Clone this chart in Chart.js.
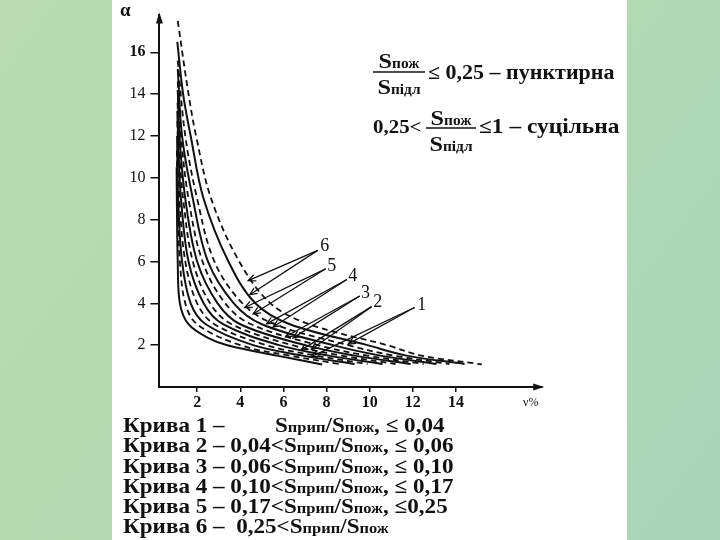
<!DOCTYPE html>
<html>
<head>
<meta charset="utf-8">
<script src="https://cdn.jsdelivr.net/npm/chart.js@4.4.1/dist/chart.umd.min.js"></script>
<style>
  html, body { margin: 0; padding: 0; background: #b6dbb2; }
  #wrap { width: 720px; height: 540px; }
</style>
</head>
<body>
<div id="wrap"><canvas id="c" width="720" height="540"></canvas></div>
<script>
// Curves as [nu %, alpha]; inner to outer, each number has a solid and a dashed line
const C1_SOLID  = [[1.05,10.5],[1.06,9],[1.1,6],[1.2,4],[1.6,3],[2.5,2.35],[3.4,2.0],[5.7,1.5],[7.8,1.08]];
const C1_DASHED = [[1.06,11.3],[1.08,9],[1.2,6],[1.45,4],[2.0,3],[4.0,2],[6.3,1.5],[8.6,1.1]];
const C2_SOLID  = [[1.07,12.0],[1.12,9],[1.3,6],[1.7,4],[2.4,3],[4.6,2],[6.9,1.5],[9.3,1.1]];
const C2_DASHED = [[1.08,12.7],[1.18,9],[1.45,6],[2.0,4],[2.8,3],[5.2,2],[7.5,1.5],[9.9,1.1]];
const C3_SOLID  = [[1.08,13.2],[1.15,11],[1.25,9],[1.6,6],[2.3,4],[3.2,3],[5.8,2],[8.1,1.5],[10.6,1.1]];
const C3_DASHED = [[1.09,13.6],[1.2,11],[1.35,9],[1.8,6],[2.6,4],[3.6,3],[6.4,2],[8.7,1.5],[11.2,1.1]];
const C4_SOLID  = [[1.1,14.2],[1.18,12],[1.45,9],[2.0,6],[2.95,4],[4.0,3],[7.0,2],[9.3,1.5],[11.9,1.1]];
const C4_DASHED = [[1.1,14.6],[1.25,12],[1.6,9],[2.25,6],[3.3,4],[4.5,3],[7.6,2],[9.9,1.5],[12.5,1.1]];
const C5_SOLID  = [[1.1,15.2],[1.3,12],[1.8,9],[2.5,6],[3.7,4],[5.0,3],[8.3,2],[10.5,1.5],[13.1,1.1]];
const C5_DASHED = [[1.1,15.6],[1.45,12],[2.0,9],[2.8,6],[4.1,4],[5.6,3],[9.0,2],[11.1,1.5],[13.7,1.1]];
const C6_SOLID  = [[1.08,16.5],[1.35,14],[1.7,12],[2.3,9],[3.45,6],[4.7,4],[6.3,3],[9.9,2],[11.7,1.5],[14.4,1.1]];
const C6_DASHED = [[1.1,17.5],[1.6,14],[1.95,12],[2.65,9],[3.95,6],[5.4,4],[7.2,3],[10.8,2],[12.4,1.5],[15.2,1.08]];

// Hand-drawn pointer arrows, in data units
const ARROW_NUMS  = ['6', '5', '4', '3', '2', '1'];
const ARROW_FROM  = [[7.59,6.53],[7.96,5.65],[8.94,5.14],[9.54,4.35],[10.09,3.84],[12.08,3.80]];
const ARROW_TIP_A = [[4.37,5.08],[4.21,3.80],[5.22,3.02],[6.1,2.4],[6.8,1.75],[7.3,1.45]];
const ARROW_TIP_B = [[4.44,4.41],[4.6,3.49],[5.52,2.87],[6.45,2.35],[7.3,1.8],[9.0,2.05]];
const LABEL_AT    = [[7.92,6.71],[8.24,5.79],[9.21,5.28],[9.81,4.49],[10.37,4.03],[12.41,3.89]];

const X_TICKS = [2, 4, 6, 8, 10, 12, 14];
const Y_TICKS = [2, 4, 6, 8, 10, 12, 14, 16];

// Legend text under the plot
const RANGE_LOW  = ['', '0,04', '0,06', '0,10', '0,17', '0,25'];
const RANGE_HIGH = [', ≤ 0,04', ', ≤ 0,06', ', ≤ 0,10', ', ≤ 0,17', ', ≤0,25', ''];

const SERIF = '"Liberation Serif", "Times New Roman", serif';
const INK = '#111';

const curves = [
  C1_SOLID, C1_DASHED, C2_SOLID, C2_DASHED, C3_SOLID, C3_DASHED,
  C4_SOLID, C4_DASHED, C5_SOLID, C5_DASHED, C6_SOLID, C6_DASHED
];

const datasets = curves.map((pts, i) => {
  const dashed = i % 2 === 1;
  return {
    data: pts.map(([x, y]) => ({ x, y })),
    showLine: true,
    borderColor: INK,
    borderWidth: dashed ? 1.8 : 2,
    borderDash: dashed ? [6, 4] : [],
    pointRadius: 0,
    tension: 0.35,
    fill: false
  };
});

// Draw a run of text pieces of different sizes on one baseline, stretched by sx
function drawRuns(ctx, x, y, parts, align, sx = 1.1) {
  let w = 0;
  for (const [t, s] of parts) {
    ctx.font = `bold ${s}px ${SERIF}`;
    w += ctx.measureText(t).width;
  }
  ctx.save();
  ctx.translate(align === 'center' ? x - w * sx / 2 : x, y);
  ctx.scale(sx, 1);
  let cx = 0;
  for (const [t, s] of parts) {
    ctx.font = `bold ${s}px ${SERIF}`;
    ctx.fillText(t, cx, 0);
    cx += ctx.measureText(t).width;
  }
  ctx.restore();
  return w * sx;
}

function arrowHead(ctx, x0, y0, x1, y1, len) {
  const a = Math.atan2(y1 - y0, x1 - x0);
  ctx.beginPath();
  ctx.moveTo(x1 - len * Math.cos(a - 0.42), y1 - len * Math.sin(a - 0.42));
  ctx.lineTo(x1, y1);
  ctx.lineTo(x1 - len * Math.cos(a + 0.42), y1 - len * Math.sin(a + 0.42));
  ctx.stroke();
}

const paperPlugin = {
  id: 'paper',
  beforeDraw(chart) {
    const ctx = chart.ctx;
    ctx.save();
    const g = ctx.createLinearGradient(0, 0, 720, 540);
    g.addColorStop(0, '#b9dcb2');
    g.addColorStop(0.5, '#b3d9b0');
    g.addColorStop(1, '#a9d5b9');
    ctx.fillStyle = g;
    ctx.fillRect(0, 0, 720, 540);
    ctx.fillStyle = '#ffffff';
    ctx.fillRect(112, 0, 515, 540);
    ctx.restore();
  }
};

const notesPlugin = {
  id: 'notes',
  afterDatasetsDraw(chart) {
    const { ctx, scales: { x, y } } = chart;
    const px = p => [x.getPixelForValue(p[0]), y.getPixelForValue(p[1])];
    ctx.save();
    ctx.strokeStyle = INK;
    ctx.fillStyle = INK;
    ctx.lineWidth = 1.3;
    ARROW_NUMS.forEach((n, i) => {
      const [fx, fy] = px(ARROW_FROM[i]);
      for (const tip of [ARROW_TIP_A[i], ARROW_TIP_B[i]]) {
        const [tx, ty] = px(tip);
        ctx.beginPath();
        ctx.moveTo(fx, fy);
        ctx.lineTo(tx, ty);
        ctx.stroke();
        arrowHead(ctx, fx, fy, tx, ty, 8);
      }
      const [lx, ly] = px(LABEL_AT[i]);
      ctx.font = `18px ${SERIF}`;
      ctx.textAlign = 'center';
      ctx.textBaseline = 'middle';
      ctx.fillText(n, lx, ly);
    });
    ctx.restore();
  },
  afterDraw(chart) {
    const { ctx, chartArea: a } = chart;
    ctx.save();
    ctx.fillStyle = INK;
    ctx.strokeStyle = INK;

    // axis arrows
    ctx.beginPath();
    ctx.moveTo(a.left, a.top - 2);
    ctx.lineTo(a.left - 3.5, a.top + 9);
    ctx.lineTo(a.left + 3.5, a.top + 9);
    ctx.closePath();
    ctx.fill();
    ctx.beginPath();
    ctx.moveTo(a.right + 2, a.bottom);
    ctx.lineTo(a.right - 9, a.bottom - 3.5);
    ctx.lineTo(a.right - 9, a.bottom + 3.5);
    ctx.closePath();
    ctx.fill();

    // axis names
    ctx.textBaseline = 'alphabetic';
    ctx.textAlign = 'left';
    ctx.font = `bold 19px ${SERIF}`;
    ctx.fillText('α', 120, 16);
    ctx.font = `12px ${SERIF}`;
    ctx.fillText('ν%', 523, 406);

    // line-style key, upper right
    drawRuns(ctx, 399, 68, [['S', 22], ['пож', 14]], 'center');
    ctx.lineWidth = 1.5;
    ctx.beginPath(); ctx.moveTo(373, 72); ctx.lineTo(425, 72); ctx.stroke();
    drawRuns(ctx, 399, 94, [['S', 22], ['підл', 14]], 'center');
    drawRuns(ctx, 428, 79, [['≤ 0,25 – пунктирна', 20]]);

    drawRuns(ctx, 373, 133, [['0,25<', 19]]);
    drawRuns(ctx, 451, 125, [['S', 22], ['пож', 14]], 'center');
    ctx.beginPath(); ctx.moveTo(426, 128); ctx.lineTo(476, 128); ctx.stroke();
    drawRuns(ctx, 451, 151, [['S', 22], ['підл', 14]], 'center');
    drawRuns(ctx, 479, 133, [['≤1 – суцільна', 20]], 'left', 1.17);

    // curve ranges, bottom
    const baselines = [432, 452, 472.5, 492.5, 513, 533];
    RANGE_LOW.forEach((lo, i) => {
      const head = `Крива ${i + 1} – `;
      const ratio = [['S', 21], ['прип', 15], ['/S', 21], ['пож', 15]];
      if (!lo) {
        drawRuns(ctx, 123, baselines[i], [[head, 21]], 'left', 1.1);
        drawRuns(ctx, 275, baselines[i], ratio.concat([[RANGE_HIGH[i], 21]]), 'left', 1.1);
      } else {
        const lead = i === 5 ? `${head} ${lo}<` : `${head}${lo}<`;
        drawRuns(ctx, 123, baselines[i],
          [[lead, 21]].concat(ratio, RANGE_HIGH[i] ? [[RANGE_HIGH[i], 21]] : []), 'left', 1.1);
      }
    });
    ctx.restore();
  }
};

new Chart(document.getElementById('c'), {
  type: 'scatter',
  data: { datasets },
  options: {
    responsive: false,
    animation: false,
    events: [],
    layout: { padding: { left: 0, right: 177.8, top: 2.5, bottom: 0 } },
    plugins: { legend: { display: false }, tooltip: { enabled: false } },
    scales: {
      x: {
        type: 'linear',
        min: 0.25,
        max: 18,
        afterBuildTicks: s => { s.ticks = X_TICKS.map(v => ({ value: v })); },
        afterFit: s => { s.height = 153; },
        grid: { drawOnChartArea: false, drawTicks: true, tickLength: 5, color: INK, lineWidth: 1.5 },
        border: { display: true, color: INK, width: 2 },
        ticks: {
          color: INK, padding: 1, autoSkip: false, maxRotation: 0,
          font: { family: SERIF, size: 16, weight: 'bold' }
        }
      },
      y: {
        type: 'linear',
        min: 0,
        max: 17.8,
        afterBuildTicks: s => { s.ticks = Y_TICKS.map(v => ({ value: v })); },
        afterFit: s => { s.width = 159.4; },
        grid: { drawOnChartArea: false, drawTicks: true, tickLength: 9, color: INK, lineWidth: 1.5 },
        border: { display: true, color: INK, width: 2 },
        ticks: {
          color: INK, padding: 5, autoSkip: false,
          font: c => ({ family: SERIF, size: 16, weight: c.tick && c.tick.value === 16 ? 'bold' : 'normal' })
        }
      }
    }
  },
  plugins: [paperPlugin, notesPlugin]
});
</script>
</body>
</html>
